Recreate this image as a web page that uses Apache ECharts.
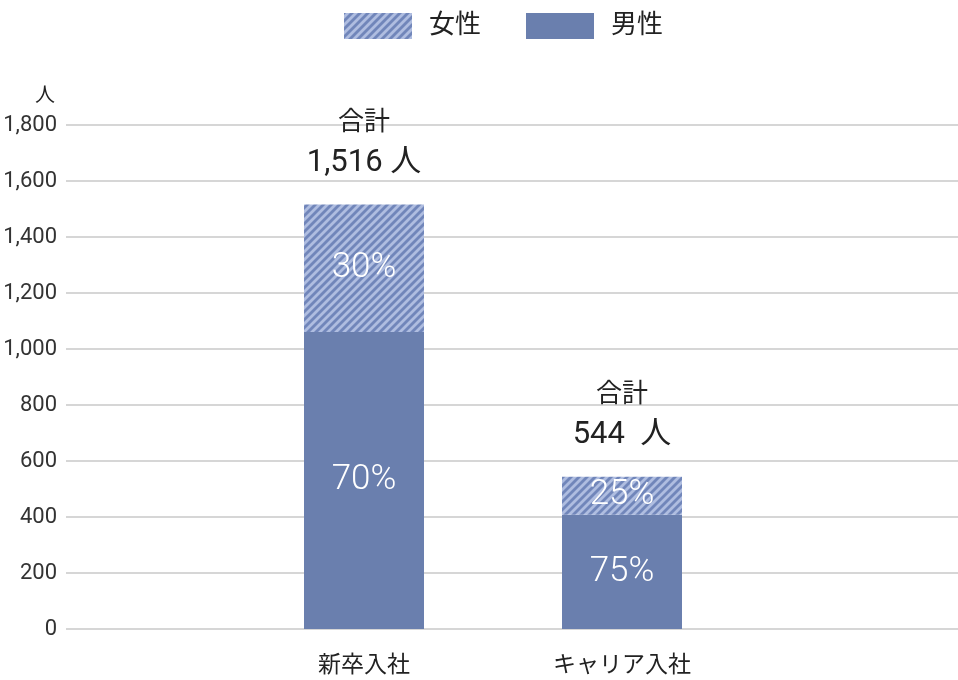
<!DOCTYPE html>
<html>
<head>
    <meta charset="UTF-8">
    <title>入社人数 男女比</title>
    <script src="https://cdn.jsdelivr.net/npm/echarts@6/dist/echarts.min.js"></script>
    <style type="text/css">
      body{ margin:0; padding:0; background:#fff; }
      #main{ width:958px; height:680px; }
    </style>
</head>
<body>
<div id="main"></div>
<script type="text/javascript">
    var categories = ['新卒入社', 'キャリア入社'];
    var maleData = [1061, 408];
    var femaleData = [455, 136];
    var malePct = [70, 75];
    var femalePct = [30, 25];
    var totals = ['1,516', '544 '];
    var yTicks = { min: 0, max: 1800, interval: 200 };

    // 斜線パターン (女性)
    var cv = document.createElement('canvas');
    cv.width = 8; cv.height = 8;
    var ctx = cv.getContext('2d');
    ctx.fillStyle = '#afbde0';
    ctx.fillRect(0, 0, 8, 8);
    ctx.strokeStyle = '#7186ba';
    ctx.lineWidth = 2.8;
    for (var k = -8; k <= 8; k += 8) {
        ctx.beginPath();
        ctx.moveTo(k - 1, 9);
        ctx.lineTo(k + 9, -1);
        ctx.stroke();
    }
    var hatch = { image: cv, repeat: 'repeat' };

    var font = 'Roboto, "Noto Sans CJK JP", sans-serif';
    var chart = echarts.init(document.getElementById('main'));

    var option = {
        animation: false,
        textStyle: { fontFamily: font },
        legend: {
            data: ['女性', '男性'],
            icon: 'rect',
            top: 8,
            left: 339,
            itemWidth: 68,
            itemHeight: 26,
            itemGap: 45,
            textStyle: { fontSize: 26, color: '#222', padding: [0, 0, 0, 12], fontFamily: font }
        },
        grid: [
            { left: 66, right: 0, top: 125, bottom: 51 },
            { left: 235, right: 207, top: 125, bottom: 51 }
        ],
        xAxis: [
            { gridIndex: 0, type: 'value', show: false, min: 0, max: 1 },
            {
                gridIndex: 1, type: 'category', data: categories,
                axisLine: { show: false }, axisTick: { show: false },
                axisLabel: { fontSize: 23, color: '#222', margin: 26 }
            }
        ],
        yAxis: [
            {
                gridIndex: 0, type: 'value',
                min: yTicks.min, max: yTicks.max, interval: yTicks.interval,
                name: '人', nameLocation: 'end', nameGap: 18,
                nameTextStyle: { fontSize: 20, color: '#222', align: 'right', padding: [0, 11, 0, 0] },
                axisLine: { show: false }, axisTick: { show: false },
                axisLabel: {
                    fontSize: 22, color: '#333', margin: 9,
                    formatter: function (v) { return v.toLocaleString('en-US'); }
                },
                splitLine: { lineStyle: { color: '#c8c8c8', width: 1.5 } }
            },
            {
                gridIndex: 1, type: 'value', show: false,
                min: yTicks.min, max: yTicks.max, interval: yTicks.interval
            }
        ],
        series: [
            {
                name: '男性', type: 'bar', stack: 'all', barWidth: 120,
                xAxisIndex: 1, yAxisIndex: 1,
                data: maleData,
                itemStyle: { color: '#6a7fae' },
                label: {
                    show: true, position: 'inside', color: '#fff', fontSize: 35, fontWeight: 300,
                    formatter: function (p) { return malePct[p.dataIndex] + '%'; }
                }
            },
            {
                name: '女性', type: 'bar', stack: 'all', barWidth: 120,
                xAxisIndex: 1, yAxisIndex: 1,
                data: femaleData,
                itemStyle: { color: hatch },
                label: {
                    show: true, position: 'inside', color: '#fff', fontSize: 35, fontWeight: 300,
                    formatter: function (p) { return femalePct[p.dataIndex] + '%'; }
                }
            },
            {
                name: '合計', type: 'bar', stack: 'all', barWidth: 120,
                xAxisIndex: 1, yAxisIndex: 1,
                data: categories.map(function () { return 0; }),
                itemStyle: { color: 'transparent' },
                label: {
                    show: true, position: 'top', distance: 22, color: '#222',
                    formatter: function (p) { return '{a|合計}\n{b|' + totals[p.dataIndex] + ' 人}'; },
                    rich: {
                        a: { fontSize: 26, lineHeight: 42, color: '#222' },
                        b: { fontSize: 31, lineHeight: 38, color: '#222' }
                    }
                }
            }
        ]
    };
    chart.setOption(option);
</script>
</body>
</html>
